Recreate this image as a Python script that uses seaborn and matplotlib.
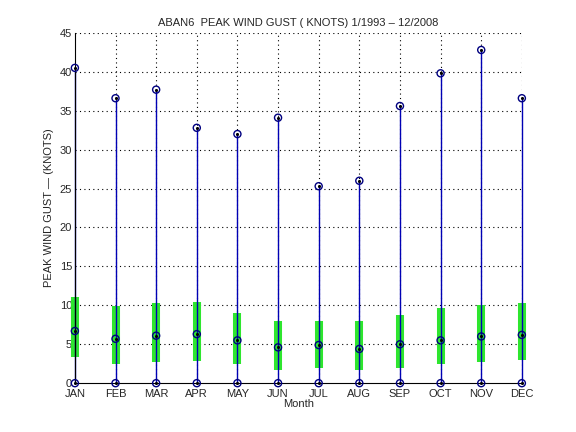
import numpy as np
import pandas as pd
import matplotlib
matplotlib.use('Agg')
import matplotlib.pyplot as plt
import seaborn as sns

# ── Data ────────────────────────────────────────────────────
months   = ['JAN', 'FEB', 'MAR', 'APR', 'MAY', 'JUN',
            'JUL', 'AUG', 'SEP', 'OCT', 'NOV', 'DEC']
gust_max = [40.5, 36.6, 37.7, 32.8, 32.0, 34.1, 25.3, 26.0, 35.6, 39.8, 42.8, 36.6]
gust_min = [0, 0, 0, 0, 0, 0, 0, 0, 0, 0, 0, 0]
gust_mid = [6.7, 5.7, 6.1, 6.3, 5.5, 4.6, 4.9, 4.4, 5.0, 5.5, 6.0, 6.2]
box_low  = [3.3, 2.4, 2.7, 2.8, 2.4, 1.7, 2.0, 1.7, 2.0, 2.4, 2.7, 3.0]
box_high = [11.1, 9.9, 10.3, 10.4, 9.0, 8.0, 8.0, 8.0, 8.8, 9.6, 10.1, 10.3]

sns.set_style("white")
plt.rcParams['font.family'] = ['Liberation Sans', 'DejaVu Sans']
plt.rcParams['font.size'] = 8

x = np.arange(1, len(months) + 1)
pts = pd.DataFrame({
    'x': np.concatenate([x, x, x]),
    'y': np.concatenate([gust_max, gust_mid, gust_min]),
})

fig = plt.figure(figsize=(5.76, 4.32), dpi=100)
ax = fig.add_axes([0.13, 0.113, 0.776, 0.811])

# grid (MATLAB-style dotted)
for yv in range(5, 50, 5):
    ax.axhline(yv, color='black', ls=(0, (1, 3)), lw=0.8, zorder=0)
for xv in x[1:]:
    ax.axvline(xv, color='black', ls=(0, (1, 3)), lw=0.8, zorder=0)

# inter-quartile style green bars
ax.vlines(x, box_low, box_high, color='#2ee62e', lw=5.8, zorder=1, clip_on=False)
# min-max whisker
ax.vlines(x, gust_min, gust_max, color='#0000b4', lw=1.0, zorder=2, clip_on=False)

sns.scatterplot(data=pts, x='x', y='y', ax=ax, marker='o', s=26,
                facecolor='none', edgecolor='#000080', linewidth=1.0,
                zorder=3, legend=False, clip_on=False)
sns.scatterplot(data=pts, x='x', y='y', ax=ax, marker='o', s=5,
                color='black', linewidth=0, zorder=4, legend=False, clip_on=False)

ax.set_xlim(1, 12)
ax.set_ylim(0, 45)
ax.set_xticks(x)
ax.set_xticklabels(months)
ax.set_yticks(np.arange(0, 50, 5))
ax.tick_params(direction='in', length=4, width=0.8, labelsize=8, pad=2)
ax.tick_params(axis='x', pad=4)

ax.set_xlabel('Month', fontsize=8, labelpad=0)
ax.set_ylabel('PEAK WIND GUST — (KNOTS)', fontsize=8, labelpad=4)
ax.set_title('ABAN6  PEAK WIND GUST ( KNOTS) 1/1993 – 12/2008', fontsize=8, pad=5)

for side in ['top', 'right']:
    ax.spines[side].set_visible(False)
for side in ['left', 'bottom']:
    ax.spines[side].set_color('black')
    ax.spines[side].set_linewidth(0.8)

fig.savefig('out.png', dpi=100)
